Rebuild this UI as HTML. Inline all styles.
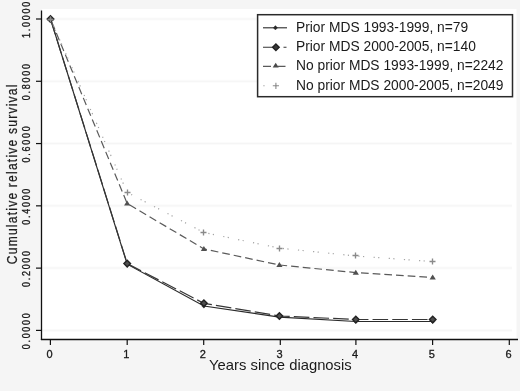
<!DOCTYPE html><html><head><meta charset="utf-8"><style>html,body{margin:0;padding:0;background:#f5f5f5;}svg{display:block;filter:grayscale(1);font-family:"Liberation Sans",sans-serif;}</style></head><body>
<svg width="520" height="391" viewBox="0 0 520 391">
<rect x="0" y="0" width="520" height="391" fill="#f5f5f5"/>
<rect x="42" y="9" width="474.5" height="330.5" fill="#ffffff"/>
<line x1="42" x2="512" y1="330.40" y2="330.40" stroke="#fbfbfb" stroke-width="3"/>
<line x1="42" x2="512" y1="330.40" y2="330.40" stroke="#f5f5f5" stroke-width="1"/>
<line x1="42" x2="512" y1="268.12" y2="268.12" stroke="#fbfbfb" stroke-width="3"/>
<line x1="42" x2="512" y1="268.12" y2="268.12" stroke="#f5f5f5" stroke-width="1"/>
<line x1="42" x2="512" y1="205.84" y2="205.84" stroke="#fbfbfb" stroke-width="3"/>
<line x1="42" x2="512" y1="205.84" y2="205.84" stroke="#f5f5f5" stroke-width="1"/>
<line x1="42" x2="512" y1="143.56" y2="143.56" stroke="#fbfbfb" stroke-width="3"/>
<line x1="42" x2="512" y1="143.56" y2="143.56" stroke="#f5f5f5" stroke-width="1"/>
<line x1="42" x2="512" y1="81.28" y2="81.28" stroke="#fbfbfb" stroke-width="3"/>
<line x1="42" x2="512" y1="81.28" y2="81.28" stroke="#f5f5f5" stroke-width="1"/>
<line x1="42" x2="512" y1="19.00" y2="19.00" stroke="#fbfbfb" stroke-width="3"/>
<line x1="42" x2="512" y1="19.00" y2="19.00" stroke="#f5f5f5" stroke-width="1"/>
<polyline points="50.50,19.00 127.20,264.23 203.90,305.96 279.40,317.10 355.80,321.49 432.70,321.49" fill="none" stroke="#2a2a2a" stroke-width="1.15"/>
<path d="M50.50 16.80L52.70 19.00L50.50 21.20L48.30 19.00Z" fill="#303030" stroke="#303030" stroke-width="0.3"/>
<path d="M127.20 262.03L129.40 264.23L127.20 266.43L125.00 264.23Z" fill="#303030" stroke="#303030" stroke-width="0.3"/>
<path d="M203.90 303.76L206.10 305.96L203.90 308.16L201.70 305.96Z" fill="#303030" stroke="#303030" stroke-width="0.3"/>
<path d="M279.40 314.90L281.60 317.10L279.40 319.30L277.20 317.10Z" fill="#303030" stroke="#303030" stroke-width="0.3"/>
<path d="M355.80 319.29L358.00 321.49L355.80 323.69L353.60 321.49Z" fill="#303030" stroke="#303030" stroke-width="0.3"/>
<path d="M432.70 319.29L434.90 321.49L432.70 323.69L430.50 321.49Z" fill="#303030" stroke="#303030" stroke-width="0.3"/>
<polyline points="50.50,19.00 127.20,263.60 203.90,303.31 279.40,315.98 355.80,319.50 432.70,319.50" fill="none" stroke="#363636" stroke-width="1.2" stroke-dasharray="15.6 4.1" stroke-dashoffset="19.41"/>
<path d="M50.50 15.70L53.80 19.00L50.50 22.30L47.20 19.00Z" fill="#4e4e4e" stroke="#222222" stroke-width="1.4"/>
<path d="M127.20 260.30L130.50 263.60L127.20 266.90L123.90 263.60Z" fill="#4e4e4e" stroke="#222222" stroke-width="1.4"/>
<path d="M203.90 300.01L207.20 303.31L203.90 306.61L200.60 303.31Z" fill="#4e4e4e" stroke="#222222" stroke-width="1.4"/>
<path d="M279.40 312.68L282.70 315.98L279.40 319.28L276.10 315.98Z" fill="#4e4e4e" stroke="#222222" stroke-width="1.4"/>
<path d="M355.80 316.20L359.10 319.50L355.80 322.80L352.50 319.50Z" fill="#4e4e4e" stroke="#222222" stroke-width="1.4"/>
<path d="M432.70 316.20L436.00 319.50L432.70 322.80L429.40 319.50Z" fill="#4e4e4e" stroke="#222222" stroke-width="1.4"/>
<polyline points="50.50,19.00 127.20,203.50 203.90,248.91 279.40,265.01 355.80,272.60 432.70,277.46" fill="none" stroke="#5a5a5a" stroke-width="1.2" stroke-dasharray="7.7 4.0" stroke-dashoffset="8.20"/>
<path d="M50.50 16.05L53.60 21.06L47.40 21.06Z" fill="#505050"/>
<path d="M127.20 200.56L130.30 205.57L124.10 205.57Z" fill="#505050"/>
<path d="M203.90 245.96L207.00 250.97L200.80 250.97Z" fill="#505050"/>
<path d="M279.40 262.06L282.50 267.07L276.30 267.07Z" fill="#505050"/>
<path d="M355.80 269.66L358.90 274.67L352.70 274.67Z" fill="#505050"/>
<path d="M432.70 274.52L435.80 279.52L429.60 279.52Z" fill="#505050"/>
<polyline points="50.50,19.00 127.20,192.45 203.90,232.50 279.40,248.10 355.80,255.98 432.70,261.58" fill="none" stroke="#a4a4a4" stroke-width="1.2" stroke-dasharray="1.2 3.4 1.2 9.4" stroke-dashoffset="8.11"/>
<path d="M47.50 19.50H53.50M50.50 16.50V22.50" stroke="#8a8a8a" stroke-width="1.35" fill="none"/>
<path d="M124.50 192.50H130.50M127.50 189.50V195.50" stroke="#8a8a8a" stroke-width="1.35" fill="none"/>
<path d="M200.50 232.50H206.50M203.50 229.50V235.50" stroke="#8a8a8a" stroke-width="1.35" fill="none"/>
<path d="M276.50 248.50H282.50M279.50 245.50V251.50" stroke="#8a8a8a" stroke-width="1.35" fill="none"/>
<path d="M352.50 255.50H358.50M355.50 252.50V258.50" stroke="#8a8a8a" stroke-width="1.35" fill="none"/>
<path d="M429.50 261.50H435.50M432.50 258.50V264.50" stroke="#8a8a8a" stroke-width="1.35" fill="none"/>
<line x1="41.5" x2="41.5" y1="10.5" y2="340.1" stroke="#111" stroke-width="1.3"/>
<line x1="40.9" x2="518" y1="339.5" y2="339.5" stroke="#111" stroke-width="1.3"/>
<line x1="36" x2="41.5" y1="330.40" y2="330.40" stroke="#111" stroke-width="1.2"/>
<text x="0" y="0" transform="translate(29.8 349.30) rotate(-90) scale(0.83 1)" font-size="10.8" letter-spacing="2.1" fill="#1a1a1a" stroke="#1a1a1a" stroke-width="0.35">0.0000</text>
<line x1="36" x2="41.5" y1="268.12" y2="268.12" stroke="#111" stroke-width="1.2"/>
<text x="0" y="0" transform="translate(29.8 287.02) rotate(-90) scale(0.83 1)" font-size="10.8" letter-spacing="2.1" fill="#1a1a1a" stroke="#1a1a1a" stroke-width="0.35">0.2000</text>
<line x1="36" x2="41.5" y1="205.84" y2="205.84" stroke="#111" stroke-width="1.2"/>
<text x="0" y="0" transform="translate(29.8 224.74) rotate(-90) scale(0.83 1)" font-size="10.8" letter-spacing="2.1" fill="#1a1a1a" stroke="#1a1a1a" stroke-width="0.35">0.4000</text>
<line x1="36" x2="41.5" y1="143.56" y2="143.56" stroke="#111" stroke-width="1.2"/>
<text x="0" y="0" transform="translate(29.8 162.46) rotate(-90) scale(0.83 1)" font-size="10.8" letter-spacing="2.1" fill="#1a1a1a" stroke="#1a1a1a" stroke-width="0.35">0.6000</text>
<line x1="36" x2="41.5" y1="81.28" y2="81.28" stroke="#111" stroke-width="1.2"/>
<text x="0" y="0" transform="translate(29.8 100.18) rotate(-90) scale(0.83 1)" font-size="10.8" letter-spacing="2.1" fill="#1a1a1a" stroke="#1a1a1a" stroke-width="0.35">0.8000</text>
<line x1="36" x2="41.5" y1="19.00" y2="19.00" stroke="#111" stroke-width="1.2"/>
<text x="0" y="0" transform="translate(29.8 37.90) rotate(-90) scale(0.83 1)" font-size="10.8" letter-spacing="2.1" fill="#1a1a1a" stroke="#1a1a1a" stroke-width="0.35">1.0000</text>
<line x1="50.40" x2="50.40" y1="339" y2="345" stroke="#111" stroke-width="1.2"/>
<text x="49.60" y="358.2" text-anchor="middle" font-size="11" fill="#1a1a1a" stroke="#1a1a1a" stroke-width="0.3">0</text>
<line x1="127.20" x2="127.20" y1="339" y2="345" stroke="#111" stroke-width="1.2"/>
<text x="126.40" y="358.2" text-anchor="middle" font-size="11" fill="#1a1a1a" stroke="#1a1a1a" stroke-width="0.3">1</text>
<line x1="203.70" x2="203.70" y1="339" y2="345" stroke="#111" stroke-width="1.2"/>
<text x="202.90" y="358.2" text-anchor="middle" font-size="11" fill="#1a1a1a" stroke="#1a1a1a" stroke-width="0.3">2</text>
<line x1="280.30" x2="280.30" y1="339" y2="345" stroke="#111" stroke-width="1.2"/>
<text x="279.50" y="358.2" text-anchor="middle" font-size="11" fill="#1a1a1a" stroke="#1a1a1a" stroke-width="0.3">3</text>
<line x1="355.90" x2="355.90" y1="339" y2="345" stroke="#111" stroke-width="1.2"/>
<text x="355.10" y="358.2" text-anchor="middle" font-size="11" fill="#1a1a1a" stroke="#1a1a1a" stroke-width="0.3">4</text>
<line x1="432.60" x2="432.60" y1="339" y2="345" stroke="#111" stroke-width="1.2"/>
<text x="431.80" y="358.2" text-anchor="middle" font-size="11" fill="#1a1a1a" stroke="#1a1a1a" stroke-width="0.3">5</text>
<line x1="509.30" x2="509.30" y1="339" y2="345" stroke="#111" stroke-width="1.2"/>
<text x="508.50" y="358.2" text-anchor="middle" font-size="11" fill="#1a1a1a" stroke="#1a1a1a" stroke-width="0.3">6</text>
<text x="0" y="0" transform="translate(17.0 264.2) rotate(-90) scale(0.8 1)" font-size="15.1" letter-spacing="1.52" fill="#1e1e1e" stroke="#1e1e1e" stroke-width="0.25">Cumulative relative survival</text>
<text x="280.4" y="370" text-anchor="middle" font-size="14.8" fill="#1a1a1a">Years since diagnosis</text>
<rect x="257.6" y="14.7" width="254.9" height="82.0" fill="#fff" stroke="#2a2a2a" stroke-width="1.5"/>
<line x1="263" x2="287" y1="27.8" y2="27.8" stroke="#2a2a2a" stroke-width="1.1"/>
<path d="M275.40 25.60L277.60 27.80L275.40 30.00L273.20 27.80Z" fill="#2a2a2a" stroke="#2a2a2a" stroke-width="0.3"/>
<line x1="263" x2="287" y1="47.3" y2="47.3" stroke="#363636" stroke-width="1.1" stroke-dasharray="11 9.5 3 10"/>
<path d="M275.90 44.00L279.20 47.30L275.90 50.60L272.60 47.30Z" fill="#3a3a3a" stroke="#222222" stroke-width="1.4"/>
<line x1="263" x2="287" y1="66.4" y2="66.4" stroke="#5a5a5a" stroke-width="1.1" stroke-dasharray="8 6.5"/>
<path d="M275.70 62.65L278.70 67.50L272.70 67.50Z" fill="#4a4a4a"/>
<line x1="263" x2="287" y1="85.8" y2="85.8" stroke="#a4a4a4" stroke-width="1.1" stroke-dasharray="1.3 10.7" stroke-dashoffset="-0.3"/>
<path d="M272.80 85.80H279.00M275.90 82.70V88.90" stroke="#8a8a8a" stroke-width="1.1" fill="none"/>
<text x="296" y="31.8" font-size="13.8" fill="#1a1a1a">Prior MDS 1993-1999, n=79</text>
<text x="296" y="51.2" font-size="13.8" fill="#1a1a1a">Prior MDS 2000-2005, n=140</text>
<text x="296" y="70.3" font-size="13.8" fill="#1a1a1a">No prior MDS 1993-1999, n=2242</text>
<text x="296" y="89.6" font-size="13.8" fill="#1a1a1a">No prior MDS 2000-2005, n=2049</text>
</svg></body></html>
